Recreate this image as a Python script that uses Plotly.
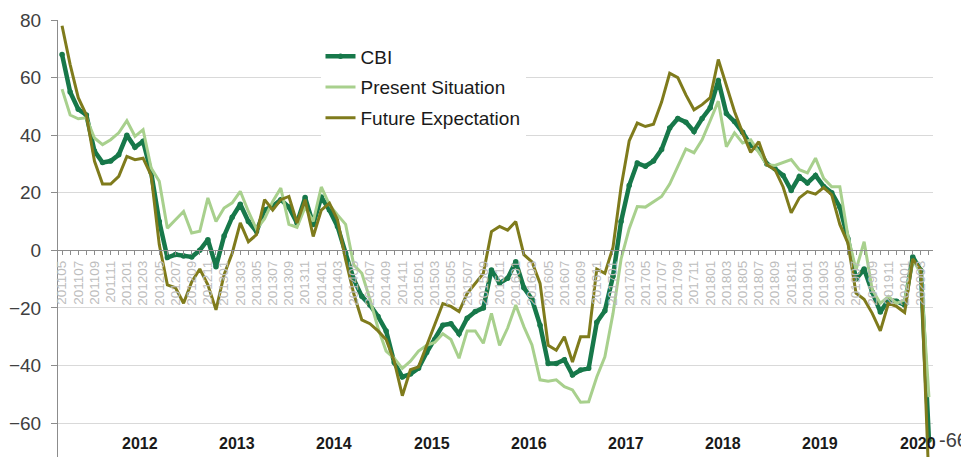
import plotly.graph_objects as go

# ---- categories (monthly, 201105 .. 202004) ----
months = []
_y, _m = 2011, 5
while (_y, _m) <= (2020, 4):
    months.append(f"{_y}{_m:02d}")
    _m += 1
    if _m > 12:
        _y, _m = _y + 1, 1

# ---- series values ----
cbi = [68, 55, 49, 47, 34.5, 30.5, 31, 33.2, 40, 35.8, 37.9, 27, 10, -2.5, -1.5, -2, -2.3, 0, 3.7, -5.7,
       5, 11.5, 16, 10, 6.5, 14, 15.3, 17.6, 15, 9.5, 18.3, 9, 18.5, 14, 8.3, -1, -10, -16, -19, -23,
       -28, -39, -44, -43, -41, -35.5, -31, -26, -25.5, -29, -23.6, -21.3, -20, -6.8, -11.4, -9.7, -4, -13, -17, -26,
       -39.3, -39.3, -38, -43.3, -41.6, -41, -25, -21, -9, 10, 22.5, 30.3, 29.2, 31, 35, 42.5, 45.8, 44.5, 41.3, 45.8,
       49.5, 59, 47.5, 44.7, 41, 36.5, 35, 30, 28.3, 26, 20.8, 25.6, 23.4, 26, 22.2, 20, 15, 4, -10, -6.5,
       -14.5, -21.4, -17.2, -17.7, -19, -2.3, -7, -66]

present = [56, 47, 45.7, 46, 39, 36.7, 38.4, 40.8, 45, 39.6, 41.9, 28.6, 24, 7.7, 10.6, 13.5, 6, 6.6, 18.2, 10,
           14.7, 16.5, 20.5, 13.5, 7.3, 11, 17, 21.6, 9, 8, 15, 10, 22, 15.8, 12.3, 9, -5, -8, -17, -27,
           -35, -37.5, -41, -38.5, -35, -33, -32, -29, -31, -37.5, -28, -28, -32.3, -21.9, -33, -27, -19, -26.5, -32.9, -45,
           -45.5, -45, -47.4, -48.5, -52.8, -52.6, -44, -37, -22, -3, 7.5, 15.2, 15, 17, 18.7, 23, 29, 35.2, 33.9, 38.4,
           45, 51.8, 36, 40.8, 37.3, 38.4, 34, 29.7, 29.5, 30.4, 31.5, 28, 26.9, 32, 25, 22.1, 22.1, 5, -6.8, 3,
           -13.7, -18.4, -16, -18.4, -17.2, -3.3, -8, -51]

future = [78, 64.5, 53, 47, 31, 23, 23, 25.7, 32.6, 31.5, 32, 26, 2, -12, -13, -18.4, -11, -6.5, -12, -20.7,
          -8.5, -1, 9.5, 3, 5.4, 17.6, 14, 17.6, 18.7, 9.5, 17.6, 4.8, 14, 16.4, 10.6, -3.3, -15, -24.2, -25.5, -28,
          -31, -38.5, -50.5, -41.5, -40.5, -33, -26, -18.5, -19.5, -21.3, -15, -11.5, -8, 6.5, 8.3, 7, 10, -1.5, -4, -11.5,
          -33, -34.7, -30, -38.8, -30, -30, -6.5, -8, 1, 22, 38, 44.2, 43, 43.8, 51.5, 61.5, 60, 54, 48.8, 50.6,
          53, 66.3, 57.6, 48.2, 40.8, 34, 37.7, 29.7, 28, 22, 13, 18.2, 20.4, 19.5, 21.8, 19.3, 9, 2.5, -14.9, -17,
          -21.9, -28, -18.4, -19.5, -21.6, -3, -6.8, -81]

series_names = ["CBI", "Present Situation", "Future Expectation"]
year_labels = ["2012", "2013", "2014", "2015", "2016", "2017", "2018", "2019", "2020"]
y_ticks = [-60, -40, -20, 0, 20, 40, 60, 80]

idx = list(range(len(months)))
x_range = [-0.5, len(months) - 0.5]
y_range = [-71.8, 80]

FONT = "Liberation Sans, Arial, sans-serif"
C_CBI = "#17784a"
C_PRES = "#a8d08d"
C_FUT = "#7f7b1c"
AXIS_C = "#8c8c8c"

fig = go.Figure()
fig.add_trace(go.Scatter(
    x=idx, y=cbi, name=series_names[0], legendgroup="a", customdata=months,
    mode="lines+markers", line=dict(color=C_CBI, width=4.5),
    marker=dict(size=5.5, color=C_CBI),
    hovertemplate="%{customdata}: %{y}<extra>CBI</extra>"))
fig.add_trace(go.Scatter(
    x=idx, y=present, name=series_names[1], legendgroup="b", customdata=months,
    mode="lines", line=dict(color=C_PRES, width=3),
    hovertemplate="%{customdata}: %{y}<extra>Present Situation</extra>"))
fig.add_trace(go.Scatter(
    x=idx, y=future, name=series_names[2], legendgroup="c", customdata=months,
    mode="lines", line=dict(color=C_FUT, width=3),
    hovertemplate="%{customdata}: %{y}<extra>Future Expectation</extra>"))
# helper trace so the month axis (crossing at 0) is drawn
fig.add_trace(go.Scatter(x=[idx[0], idx[-1]], y=[None, None], xaxis="x2",
                         showlegend=False, hoverinfo="skip", mode="lines"))

zero_pos = (0 - y_range[0]) / (y_range[1] - y_range[0])

annotations = []
for yl in year_labels:
    annotations.append(dict(
        x=months.index(yl + "02") + 0.6, y=-67, xref="x", yref="y",
        text=f"<b>{yl}</b>", showarrow=False,
        font=dict(family=FONT, size=16, color="#1a1a1a")))
annotations.append(dict(
    x=idx[-1], y=cbi[-1], xref="x", yref="y", text=f"{cbi[-1]:.0f}",
    showarrow=False, xanchor="left", xshift=8,
    font=dict(family=FONT, size=20, color="#404040")))

# the page body adds an 8px offset, so the figure is sized to the remaining window
fig.update_layout(
    template="none",
    width=961, height=449,
    margin=dict(l=50, r=36, t=12, b=0),
    paper_bgcolor="white", plot_bgcolor="white",
    font=dict(family=FONT),
    showlegend=True,
    legend=dict(x=0.3, y=0.96, xanchor="left", yanchor="top",
                bgcolor="white", borderwidth=0, traceorder="grouped",
                tracegroupgap=3, font=dict(family=FONT, size=19, color="#1a1a1a")),
    xaxis=dict(range=x_range, visible=False, fixedrange=True),
    xaxis2=dict(overlaying="x", anchor="free", position=zero_pos, side="bottom",
                range=x_range, tickmode="array", tickvals=idx[::2], ticktext=months[::2],
                tickangle=-90, tickfont=dict(family=FONT, size=13.5, color="#bdbdbd"),
                showline=True, linecolor=AXIS_C, linewidth=1,
                ticks="outside", ticklen=4, tickcolor=AXIS_C,
                minor=dict(tickmode="linear", tick0=0, dtick=1, ticks="outside",
                           ticklen=4, tickcolor=AXIS_C),
                showgrid=False, zeroline=False, automargin=False, layer="above traces"),
    yaxis=dict(range=y_range, tickmode="array", tickvals=y_ticks,
               showgrid=True, gridcolor="#d9d9d9", gridwidth=1, zeroline=False,
               showline=True, linecolor=AXIS_C, linewidth=1,
               ticks="outside", ticklen=6, tickcolor=AXIS_C, ticklabelstandoff=6,
               tickfont=dict(family=FONT, size=19, color="#404040"), automargin=False),
    annotations=annotations,
)

fig.write_html("out.html")
